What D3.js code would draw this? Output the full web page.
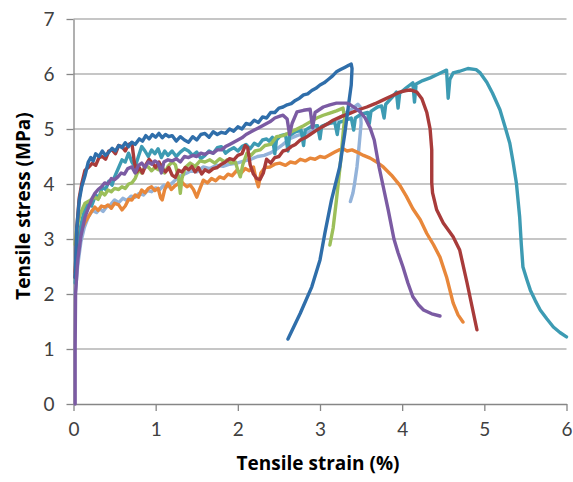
<!DOCTYPE html>
<html>
<head>
<meta charset="utf-8">
<script src="https://cdn.jsdelivr.net/npm/d3@7"></script>
<style>
  body { margin: 0; background: #fff; }
  svg { display: block; }
  .tick text { font-family: Lato, "Open Sans", sans-serif; font-size: 19px; fill: #404040; }
  .title { font-family: "Open Sans", Lato, sans-serif; font-weight: bold; font-size: 19px; fill: #000; }
</style>
</head>
<body>
<div id="chart"></div>
<script>
// tensile tests, [strain %, stress MPa]
const blue = [[0.02,2.3],[0.04,3.2],[0.07,3.7],[0.1,3.95],[0.14,4.15],[0.18,4.4],[0.21,4.48],[0.24,4.42],[0.27,4.55],[0.31,4.5],[0.35,4.6],[0.39,4.52],[0.43,4.58],[0.47,4.65],[0.51,4.6],[0.55,4.7],[0.59,4.66],[0.63,4.75],[0.67,4.68],[0.71,4.76],[0.75,4.72],[0.8,4.82],[0.84,4.78],[0.88,4.88],[0.92,4.82],[0.96,4.9],[1.0,4.85],[1.04,4.92],[1.08,4.84],[1.12,4.9],[1.16,4.86],[1.2,4.88],[1.25,4.78],[1.3,4.86],[1.35,4.8],[1.4,4.76],[1.45,4.86],[1.5,4.8],[1.55,4.9],[1.6,4.92],[1.65,4.85],[1.7,4.95],[1.75,4.9],[1.8,4.94],[1.85,4.92],[1.9,5.0],[1.95,4.96],[2.0,5.04],[2.05,5.0],[2.1,5.1],[2.15,5.08],[2.2,5.16],[2.25,5.12],[2.3,5.22],[2.35,5.2],[2.4,5.3],[2.45,5.3],[2.5,5.38],[2.55,5.4],[2.6,5.44],[2.65,5.46],[2.7,5.52],[2.75,5.56],[2.8,5.62],[2.85,5.64],[2.9,5.7],[2.95,5.74],[3.0,5.8],[3.05,5.84],[3.1,5.9],[3.15,5.96],[3.2,6.04],[3.25,6.08],[3.3,6.12],[3.35,6.16],[3.38,6.18],[3.39,6.1],[3.38,5.8],[3.35,5.47],[3.3,4.9],[3.24,4.31],[3.14,3.71],[3.06,3.11],[3.0,2.62],[2.9,2.13],[2.76,1.65],[2.61,1.18]];

const red = [[0.02,2.3],[0.04,3.2],[0.07,3.75],[0.1,4.0],[0.14,4.25],[0.18,4.3],[0.23,4.38],[0.27,4.34],[0.31,4.48],[0.35,4.5],[0.39,4.45],[0.43,4.6],[0.47,4.62],[0.51,4.55],[0.55,4.7],[0.59,4.68],[0.63,4.6],[0.67,4.72],[0.71,4.75],[0.74,4.4],[0.77,4.22],[0.8,4.3],[0.84,4.2],[0.88,4.35],[0.92,4.45],[0.96,4.38],[1.0,4.3],[1.04,4.4],[1.08,4.28],[1.12,4.22],[1.16,4.3],[1.2,4.16],[1.24,4.12],[1.28,4.25],[1.32,4.22],[1.36,4.3],[1.4,4.26],[1.44,4.32],[1.48,4.22],[1.52,4.3],[1.56,4.18],[1.6,4.26],[1.65,4.22],[1.7,4.28],[1.75,4.3],[1.8,4.36],[1.85,4.4],[1.9,4.46],[1.95,4.44],[2.0,4.52],[2.05,4.55],[2.09,4.7],[2.12,4.66],[2.15,4.35],[2.19,4.18],[2.23,4.1],[2.27,4.08],[2.31,4.2],[2.35,4.45],[2.4,4.38],[2.45,4.48],[2.5,4.5],[2.55,4.6],[2.6,4.62],[2.65,4.68],[2.7,4.72],[2.76,4.8],[2.82,4.84],[2.88,4.9],[2.96,4.98],[3.04,5.05],[3.1,5.1],[3.16,5.16],[3.25,5.22],[3.37,5.29],[3.47,5.35],[3.57,5.4],[3.67,5.46],[3.77,5.53],[3.87,5.6],[3.97,5.67],[4.05,5.7],[4.1,5.71],[4.18,5.67],[4.24,5.55],[4.3,5.3],[4.34,5.0],[4.36,4.62],[4.36,4.02],[4.37,3.84],[4.42,3.53],[4.5,3.29],[4.62,3.04],[4.7,2.8],[4.79,2.2],[4.91,1.35]];

const teal = [[0.02,2.2],[0.05,2.9],[0.09,3.25],[0.13,3.5],[0.17,3.65],[0.22,3.6],[0.27,3.8],[0.31,3.75],[0.35,3.95],[0.39,3.9],[0.43,4.05],[0.47,3.98],[0.5,4.13],[0.55,4.3],[0.59,4.44],[0.63,4.4],[0.67,4.56],[0.71,4.4],[0.75,4.31],[0.79,4.5],[0.83,4.68],[0.87,4.6],[0.91,4.5],[0.95,4.62],[0.99,4.55],[1.03,4.64],[1.07,4.48],[1.11,4.6],[1.15,4.52],[1.2,4.6],[1.25,4.5],[1.3,4.58],[1.35,4.64],[1.4,4.6],[1.45,4.52],[1.5,4.58],[1.55,4.46],[1.6,4.52],[1.65,4.6],[1.7,4.56],[1.75,4.66],[1.8,4.68],[1.85,4.56],[1.9,4.62],[1.95,4.66],[2.0,4.6],[2.05,4.68],[2.1,4.72],[2.15,4.64],[2.2,4.74],[2.25,4.7],[2.3,4.8],[2.35,4.82],[2.38,4.78],[2.42,4.85],[2.45,4.55],[2.47,4.8],[2.52,4.88],[2.58,4.9],[2.61,4.6],[2.63,4.88],[2.7,4.95],[2.77,4.98],[2.8,4.7],[2.82,4.98],[2.9,5.05],[2.97,5.06],[3.0,4.82],[3.02,5.05],[3.1,5.1],[3.18,5.12],[3.21,4.9],[3.23,5.12],[3.3,5.15],[3.38,5.2],[3.41,4.98],[3.43,5.2],[3.5,5.27],[3.58,5.3],[3.6,5.1],[3.62,5.32],[3.7,5.4],[3.75,5.42],[3.78,5.2],[3.8,5.45],[3.88,5.58],[3.93,5.67],[3.95,5.38],[3.97,5.65],[4.05,5.75],[4.13,5.84],[4.15,5.49],[4.17,5.82],[4.25,5.88],[4.34,5.93],[4.44,6.0],[4.54,6.07],[4.56,5.56],[4.58,5.9],[4.62,6.02],[4.7,6.05],[4.8,6.1],[4.9,6.08],[4.95,6.02],[5.03,5.85],[5.1,5.65],[5.19,5.35],[5.25,5.05],[5.31,4.74],[5.35,4.4],[5.39,4.02],[5.43,3.4],[5.45,2.9],[5.47,2.49],[5.52,2.25],[5.56,2.07],[5.62,1.88],[5.68,1.71],[5.76,1.55],[5.84,1.4],[5.92,1.3],[6.0,1.22]];

const purple = [[0.02,0],[0.02,1.0],[0.025,2.0],[0.05,2.6],[0.09,3.05],[0.14,3.4],[0.19,3.6],[0.23,3.75],[0.26,3.83],[0.3,3.9],[0.34,3.95],[0.38,4.02],[0.42,4.0],[0.46,4.1],[0.5,4.08],[0.54,4.13],[0.58,4.2],[0.62,4.18],[0.66,4.28],[0.71,4.31],[0.75,4.2],[0.79,4.34],[0.83,4.38],[0.87,4.3],[0.91,4.4],[0.95,4.36],[0.99,4.42],[1.03,4.38],[1.07,4.2],[1.1,4.4],[1.15,4.44],[1.2,4.42],[1.25,4.46],[1.3,4.4],[1.35,4.5],[1.4,4.48],[1.45,4.52],[1.5,4.5],[1.55,4.56],[1.6,4.54],[1.65,4.58],[1.7,4.56],[1.75,4.62],[1.8,4.62],[1.85,4.68],[1.9,4.72],[1.95,4.76],[2.0,4.8],[2.05,4.84],[2.1,4.9],[2.15,4.94],[2.2,4.98],[2.25,5.02],[2.3,5.06],[2.35,5.1],[2.39,5.13],[2.45,5.2],[2.52,5.24],[2.55,5.25],[2.6,5.18],[2.63,4.9],[2.66,5.1],[2.72,5.31],[2.8,5.34],[2.88,5.36],[2.91,5.02],[2.94,5.3],[3.04,5.4],[3.12,5.44],[3.2,5.47],[3.28,5.47],[3.33,5.47],[3.37,5.44],[3.43,5.38],[3.49,5.31],[3.55,5.2],[3.61,5.02],[3.66,4.8],[3.72,4.3],[3.77,3.95],[3.83,3.53],[3.9,3.0],[3.95,2.75],[4.01,2.49],[4.07,2.2],[4.13,1.95],[4.2,1.8],[4.26,1.71],[4.36,1.64],[4.46,1.6]];

const green = [[0.02,2.9],[0.04,3.2],[0.08,3.45],[0.14,3.65],[0.2,3.7],[0.26,3.76],[0.3,3.72],[0.34,3.85],[0.38,3.8],[0.42,3.89],[0.46,3.86],[0.5,3.92],[0.55,3.9],[0.59,3.95],[0.63,3.92],[0.67,4.0],[0.71,4.02],[0.75,4.1],[0.79,4.25],[0.83,4.2],[0.87,4.32],[0.91,4.31],[0.95,4.24],[0.99,4.3],[1.03,4.26],[1.07,4.35],[1.11,4.2],[1.15,4.32],[1.2,4.4],[1.24,4.35],[1.28,4.1],[1.3,3.83],[1.32,4.1],[1.36,4.3],[1.42,4.38],[1.48,4.32],[1.54,4.42],[1.6,4.4],[1.66,4.44],[1.72,4.38],[1.78,4.46],[1.84,4.4],[1.87,4.44],[1.92,4.38],[1.97,4.4],[2.0,4.25],[2.03,4.13],[2.06,4.35],[2.11,4.56],[2.16,4.52],[2.21,4.6],[2.27,4.62],[2.33,4.7],[2.4,4.72],[2.47,4.86],[2.55,4.88],[2.64,4.94],[2.72,5.0],[2.8,5.06],[2.88,5.13],[2.96,5.2],[3.04,5.25],[3.12,5.29],[3.2,5.33],[3.28,5.38],[3.3,5.2],[3.28,4.9],[3.25,4.4],[3.2,3.71],[3.16,3.2],[3.12,2.89]];

const orange = [[0.02,2.4],[0.05,2.9],[0.09,3.15],[0.14,3.3],[0.18,3.4],[0.22,3.5],[0.26,3.58],[0.3,3.52],[0.34,3.6],[0.38,3.58],[0.42,3.62],[0.46,3.56],[0.5,3.65],[0.55,3.62],[0.59,3.53],[0.63,3.6],[0.67,3.72],[0.71,3.71],[0.75,3.8],[0.79,3.76],[0.83,3.89],[0.87,3.84],[0.91,3.92],[0.95,3.95],[0.99,3.88],[1.03,3.92],[1.06,3.75],[1.08,3.71],[1.11,3.9],[1.15,4.02],[1.19,3.9],[1.23,3.96],[1.27,4.0],[1.3,4.07],[1.34,4.0],[1.38,3.95],[1.42,3.98],[1.46,3.9],[1.5,3.76],[1.54,3.92],[1.58,4.07],[1.63,4.02],[1.68,4.1],[1.73,4.06],[1.78,4.13],[1.83,4.1],[1.88,4.18],[1.93,4.15],[1.99,4.25],[2.04,4.2],[2.09,4.28],[2.14,4.24],[2.19,4.31],[2.22,4.1],[2.25,3.95],[2.28,4.2],[2.33,4.3],[2.39,4.31],[2.45,4.36],[2.51,4.38],[2.58,4.34],[2.64,4.4],[2.7,4.38],[2.76,4.45],[2.82,4.42],[2.88,4.47],[2.94,4.45],[3.0,4.5],[3.06,4.48],[3.12,4.53],[3.18,4.58],[3.23,4.62],[3.28,4.64],[3.33,4.6],[3.39,4.62],[3.45,4.58],[3.53,4.52],[3.61,4.47],[3.69,4.4],[3.77,4.31],[3.87,4.16],[3.97,3.98],[4.05,3.78],[4.13,3.55],[4.22,3.35],[4.3,3.1],[4.38,2.9],[4.46,2.67],[4.54,2.31],[4.62,1.84],[4.68,1.62],[4.74,1.49]];

const lightBlue = [[0.02,2.0],[0.05,2.5],[0.09,2.95],[0.13,3.2],[0.18,3.4],[0.23,3.52],[0.28,3.48],[0.32,3.55],[0.36,3.5],[0.4,3.58],[0.45,3.62],[0.5,3.71],[0.55,3.66],[0.6,3.74],[0.65,3.7],[0.7,3.78],[0.75,3.76],[0.8,3.83],[0.85,3.8],[0.9,3.88],[0.95,3.86],[1.0,3.93],[1.05,3.9],[1.1,3.98],[1.15,3.95],[1.2,4.02],[1.26,4.1],[1.32,4.16],[1.38,4.2],[1.44,4.25],[1.5,4.22],[1.58,4.31],[1.66,4.28],[1.74,4.34],[1.82,4.32],[1.9,4.36],[1.99,4.38],[2.08,4.42],[2.16,4.45],[2.24,4.5],[2.32,4.52],[2.39,4.56],[2.46,4.62],[2.55,4.72],[2.64,4.83],[2.72,4.88],[2.8,4.92],[2.9,4.96],[3.0,5.02],[3.08,5.08],[3.16,5.13],[3.24,5.2],[3.32,5.3],[3.4,5.38],[3.46,5.45],[3.49,5.4],[3.5,5.1],[3.49,4.93],[3.47,4.6],[3.45,4.31],[3.42,4.0],[3.4,3.83],[3.37,3.68]];

const xTicks = [0, 1, 2, 3, 4, 5, 6];
const yTicks = [0, 1, 2, 3, 4, 5, 6, 7];

const series = [
    { data: lightBlue, color: "#93b3da" },
    { data: orange, color: "#e8873a" },
    { data: teal, color: "#3d9bb3" },
    { data: green, color: "#9cbf5a" },
    { data: red, color: "#a83b3a" },
    { data: blue, color: "#2f6eaa" },
    { data: purple, color: "#7b5ba3" }
];

const width = 573, height = 482;
const margin = { left: 73.5, right: 6.5, top: 19, bottom: 78 };

const x = d3.scaleLinear().domain([0, 6]).range([margin.left, width - margin.right]);
const y = d3.scaleLinear().domain([0, 7]).range([height - margin.bottom, margin.top]);

const svg = d3.select("#chart")
    .append("svg")
    .attr("width", width)
    .attr("height", height);

// gridlines
svg.append("g")
    .selectAll("line")
    .data(yTicks.slice(1))
    .join("line")
    .attr("x1", x(0))
    .attr("x2", x(6))
    .attr("y1", d => y(d))
    .attr("y2", d => y(d))
    .style("stroke", "#b3b3b3")
    .style("stroke-width", 1.6);

const yAxis = svg.append("g")
    .attr("transform", `translate(${x(0)},0)`)
    .call(d3.axisLeft(y).tickValues(yTicks).tickFormat(d3.format("d")).tickSize(7).tickPadding(12).tickSizeOuter(0));

const xAxis = svg.append("g")
    .attr("transform", `translate(0,${y(0)})`)
    .call(d3.axisBottom(x).tickValues(xTicks).tickFormat(d3.format("d")).tickSize(7).tickPadding(12).tickSizeOuter(0));

[yAxis, xAxis].forEach(g => {
    g.selectAll(".domain, .tick line").style("stroke", "#868686").style("stroke-width", 1.3);
});

const line = d3.line()
    .x(d => x(d[0]))
    .y(d => y(d[1]));

svg.append("g")
    .selectAll("path")
    .data(series)
    .join("path")
    .attr("d", d => line(d.data))
    .style("fill", "none")
    .style("stroke", d => d.color)
    .style("stroke-width", 3.4)
    .style("stroke-linejoin", "round")
    .style("stroke-linecap", "round");

svg.append("text")
    .attr("class", "title")
    .attr("x", 318)
    .attr("y", 470)
    .attr("text-anchor", "middle")
    .text("Tensile strain (%)");

svg.append("text")
    .attr("class", "title")
    .attr("transform", "translate(30,206) rotate(-90)")
    .attr("text-anchor", "middle")
    .text("Tensile stress (MPa)");
</script>
</body>
</html>
